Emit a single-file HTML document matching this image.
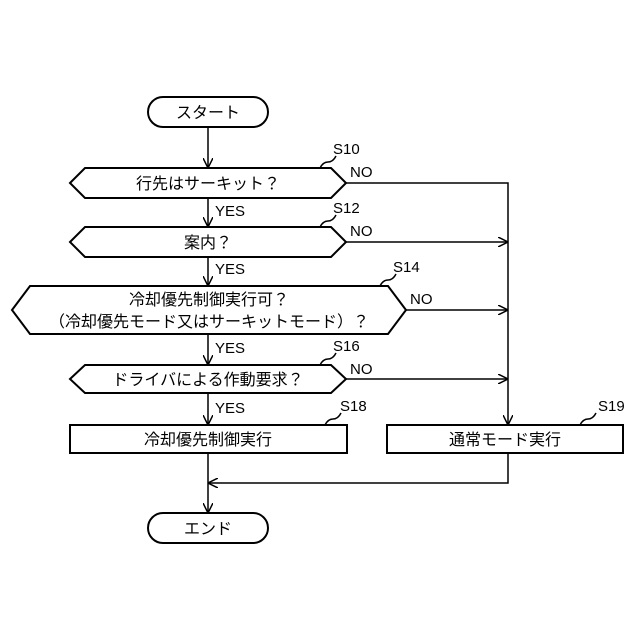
<!DOCTYPE html>
<html><head><meta charset="utf-8"><style>body{margin:0;background:#fff}svg{display:block}text{font-family:"Liberation Sans","Noto Sans CJK JP",sans-serif;fill:#000}</style></head><body>
<svg width="640" height="640" viewBox="0 0 640 640" xmlns="http://www.w3.org/2000/svg">
<defs><marker id="a" viewBox="0 0 10 10" refX="10" refY="5" markerWidth="10" markerHeight="10" markerUnits="userSpaceOnUse" orient="auto"><path d="M0,0 L10,5 L0,10" fill="none" stroke="#000" stroke-width="1.5"/></marker></defs>
<g fill="none" stroke="#000" stroke-width="2">
<rect x="148" y="97" width="120" height="30" rx="15"/>
<rect x="148" y="513" width="120" height="30" rx="15"/>
<polygon points="70,183 85,168 331,168 346,183 331,198 85,198"/>
<polygon points="70,242 85,227 331,227 346,242 331,257 85,257"/>
<polygon points="12,310 30,286 388,286 406,310 388,334 30,334"/>
<polygon points="70,379 85,365 331,365 346,379 331,393 85,393"/>
<rect x="70" y="425" width="277" height="28"/>
<rect x="387" y="425" width="236" height="28"/>
</g>
<g fill="none" stroke="#000" stroke-width="1.5">
<line x1="208" y1="127" x2="208" y2="168" marker-end="url(#a)"/>
<line x1="208" y1="198" x2="208" y2="227" marker-end="url(#a)"/>
<line x1="208" y1="257" x2="208" y2="286" marker-end="url(#a)"/>
<line x1="208" y1="334" x2="208" y2="365" marker-end="url(#a)"/>
<line x1="208" y1="393" x2="208" y2="425" marker-end="url(#a)"/>
<line x1="208" y1="453" x2="208" y2="513" marker-end="url(#a)"/>
<polyline points="346,183 508,183 508,425" marker-end="url(#a)"/>
<line x1="346" y1="242" x2="508" y2="242" marker-end="url(#a)"/>
<line x1="406" y1="310" x2="508" y2="310" marker-end="url(#a)"/>
<line x1="346" y1="379" x2="508" y2="379" marker-end="url(#a)"/>
<polyline points="508,453 508,483 208,483" marker-end="url(#a)"/>
<path d="M320,168 q3,-6 8,-6 q5,0 8,-6"/>
<path d="M320,227 q3,-6 8,-6 q5,0 8,-6"/>
<path d="M380,286 q3,-6 8,-6 q5,0 8,-6"/>
<path d="M320,365 q3,-6 8,-6 q5,0 8,-6"/>
<path d="M325,425 q3,-6 8,-6 q5,0 8,-6"/>
<path d="M580,425 q3,-6 8,-6 q5,0 8,-6"/>
</g>
<g font-size="16" text-anchor="middle">
<text x="208" y="118">スタート</text>
<text x="208" y="189">行先はサーキット？</text>
<text x="208" y="248">案内？</text>
<text x="209" y="305">冷却優先制御実行可？</text>
<text x="209" y="327">（冷却優先モード又はサーキットモード）？</text>
<text x="208" y="385">ドライバによる作動要求？</text>
<text x="208" y="445">冷却優先制御実行</text>
<text x="505" y="445">通常モード実行</text>
<text x="208" y="534">エンド</text>
</g>
<g font-size="15">
<text x="333" y="154">S10</text>
<text x="333" y="213">S12</text>
<text x="393" y="272">S14</text>
<text x="333" y="351">S16</text>
<text x="340" y="411">S18</text>
<text x="598" y="411">S19</text>
<text x="215" y="216">YES</text>
<text x="215" y="274">YES</text>
<text x="215" y="353">YES</text>
<text x="215" y="413">YES</text>
<text x="350" y="177">NO</text>
<text x="350" y="236">NO</text>
<text x="410" y="304">NO</text>
<text x="350" y="374">NO</text>
</g>
</svg>
</body></html>
